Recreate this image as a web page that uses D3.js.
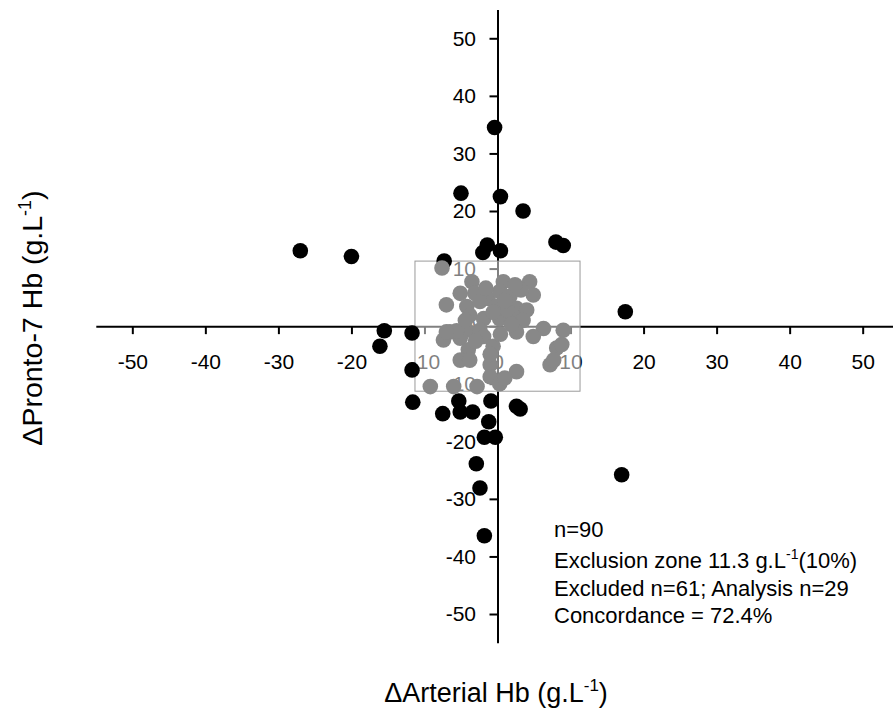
<!DOCTYPE html>
<html>
<head>
<meta charset="utf-8">
<script src="https://cdn.jsdelivr.net/npm/d3@7"></script>
<style>
  html, body { margin: 0; padding: 0; background: #fff; }
  svg { display: block; font-family: "Liberation Sans", Arial, sans-serif; }
</style>
</head>
<body>
<svg id="chart" width="893" height="711"></svg>
<script>
// ---- Data ----
const tickValues = [-50, -40, -30, -20, -10, 0, 10, 20, 30, 40, 50];
const exclusionZone = 11.3;

// Analysis points (outside exclusion zone) - black
const analysisX = [-27.0, -20.0, -5.0, -0.4, 0.4, 3.5, -1.4, -2.0, 0.4, -7.3, 8.0, 9.0, 17.5, 17.0,
  -11.6, -7.5, -5.3, -5.1, -3.4, -0.9, -1.2, -1.8, -0.3, 2.6, 3.1, -2.9, -2.4, -1.8,
  -15.5, -16.1, -11.7, -11.7];
const analysisY = [13.1, 12.1, 23.1, 34.5, 22.5, 20.0, 14.1, 12.8, 13.1, 11.3, 14.6, 14.0, 2.5, -25.8,
  -13.2, -15.2, -13.0, -14.9, -14.9, -13.0, -16.6, -19.3, -19.3, -13.9, -14.4, -23.9, -28.1, -36.4,
  -0.8, -3.5, -1.2, -7.6];

// Excluded points (inside exclusion zone) - grey
const excludedX = [-3.5, 0.8, 2.6, 4.4, -5.1, -3.1, -1.3, 0.3, 1.7, 4.9, -7.0, -4.2, -2.4, -0.1, 2.6, 4.0,
  -3.8, 0.3, 2.2, 3.5, -1.9, 1.3, -6.5, -4.2, -2.4, 2.6, 6.3, 9.0, -7.4, -5.1, -1.9, 4.9,
  -4.0, -0.6, 8.1, 8.8, -5.1, -3.8, -1.0, 7.2, 7.7, -9.2, -6.0, -2.8, -1.0, 0.3, 2.6, -7.6,
  -1.6, 1.0, 3.2, -0.6, 1.9, -3.0, -5.6, 0.4, -1.0, 1.0, -7.0, 2.4, -4.4];
const excludedY = [7.7, 7.7, 6.9, 7.7, 5.7, 5.7, 4.8, 6.0, 5.2, 5.4, 3.7, 3.4, 4.3, 3.4, 3.1, 2.8,
  1.9, 1.3, 1.6, 1.0, 1.3, 2.8, -1.0, -0.7, -0.7, -1.0, -0.4, -0.7, -2.4, -2.1, -1.8, -1.8,
  -4.1, -3.5, -3.8, -3.2, -5.9, -5.9, -6.7, -6.7, -5.9, -10.5, -10.5, -10.5, -8.8, -10.0, -7.9, 10.1,
  6.6, 4.4, 6.3, 2.4, 0.3, -2.6, -0.8, -1.4, -4.9, -9.0, -1.0, 7.2, 1.0];

const annotationLines = ["n=90", "Exclusion zone 11.3 g.L", "Excluded n=61; Analysis n=29", "Concordance = 72.4%"];

// ---- Scales ----
const svg = d3.select("#chart");
const x = d3.scaleLinear().domain([-55, 55]).range([95.8, 899.2]);
const y = d3.scaleLinear().domain([-55, 55]).range([642.8, 9.5]);
const x0 = x(0), y0 = y(0);

// ---- Axes (crossing at origin) ----
const xAxis = d3.axisBottom(x).tickValues(tickValues).tickSize(8).tickSizeOuter(0).tickPadding(20);
const yAxis = d3.axisLeft(y).tickValues(tickValues).tickSize(8).tickSizeOuter(0).tickPadding(13.5);

const gx = svg.append("g").attr("transform", `translate(0,${y0})`).call(xAxis);
const gy = svg.append("g").attr("transform", `translate(${x0},0)`).call(yAxis);
[gx, gy].forEach(g => {
  g.selectAll("path.domain").attr("stroke", "#000").attr("stroke-width", 2);
  g.selectAll(".tick line").attr("stroke", "#000").attr("stroke-width", 2);
  g.selectAll(".tick text").attr("fill", "#000").style("font-size", "21px")
    .style("font-family", '"Liberation Sans", Arial, sans-serif');
});
gx.selectAll(".tick text").text(d => d < 0 ? "-" + Math.abs(d) : d);
gy.selectAll(".tick text").text(d => d < 0 ? "-" + Math.abs(d) : d);

// ---- Exclusion zone box (semi-opaque white) ----
svg.append("rect")
  .attr("x", x(-exclusionZone)).attr("y", y(exclusionZone))
  .attr("width", x(exclusionZone) - x(-exclusionZone))
  .attr("height", y(-exclusionZone) - y(exclusionZone))
  .attr("fill", "#fff").attr("fill-opacity", 0.5)
  .attr("stroke", "#9a9a9a").attr("stroke-width", 1);

// ---- Points ----
const analysis = analysisX.map((v, i) => ({x: v, y: analysisY[i]}));
const excluded = excludedX.map((v, i) => ({x: v, y: excludedY[i]}));

svg.append("g").selectAll("circle").data(analysis).join("circle")
  .attr("cx", d => x(d.x)).attr("cy", d => y(d.y)).attr("r", 7.8).attr("fill", "#000");

svg.append("g").selectAll("circle").data(excluded).join("circle")
  .attr("cx", d => x(d.x)).attr("cy", d => y(d.y)).attr("r", 7.8).attr("fill", "#888888");

// ---- Annotation ----
const ann = svg.append("g").style("font-size", "22px").attr("fill", "#000");
const baselines = [537, 568, 596, 623];
annotationLines.forEach((t, i) => {
  const txt = ann.append("text").attr("x", 554).attr("y", baselines[i]).text(t);
  if (i === 1) {
    txt.append("tspan").attr("dy", -9).style("font-size", "14px").text("-1");
    txt.append("tspan").attr("dy", 9).text("(10%)");
  }
});

// ---- Axis titles ----
const xt = svg.append("text").attr("x", 496).attr("y", 702).attr("text-anchor", "middle")
  .style("font-size", "27px").attr("fill", "#000");
xt.append("tspan").text("\u0394Arterial Hb (g.L");
xt.append("tspan").attr("dy", -11).style("font-size", "17px").text("-1");
xt.append("tspan").attr("dy", 11).text(")");

const yt = svg.append("text").attr("transform", "translate(42,318) rotate(-90)").attr("text-anchor", "middle")
  .style("font-size", "28.5px").attr("fill", "#000");
yt.append("tspan").text("\u0394Pronto-7 Hb (g.L");
yt.append("tspan").attr("dy", -11).style("font-size", "18px").text("-1");
yt.append("tspan").attr("dy", 11).text(")");
</script>
</body>
</html>
